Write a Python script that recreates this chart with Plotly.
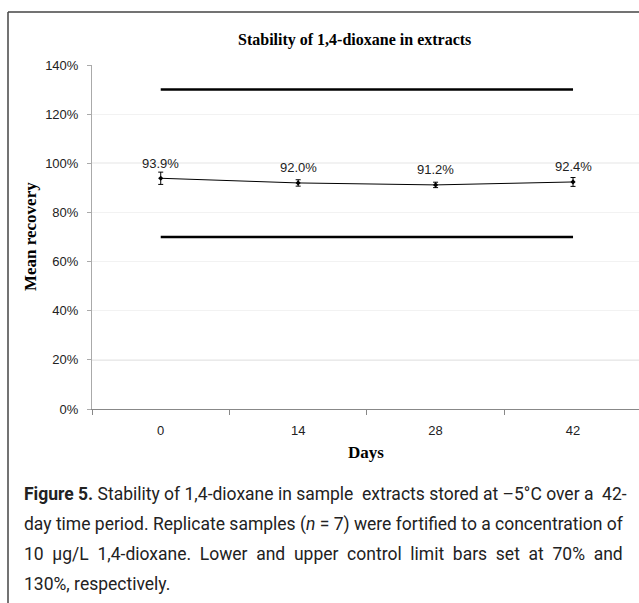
import plotly.graph_objects as go

# ---- data ----
days = ["0", "14", "28", "42"]
recovery = [93.9, 92.0, 91.2, 92.4]
err = [2.5, 1.3, 1.1, 1.8]
labels = ["93.9%", "92.0%", "91.2%", "92.4%"]
lower_limit = [70, 70]
upper_limit = [130, 130]
limit_x = ["0", "42"]
yticks = [0, 20, 40, 60, 80, 100, 120, 140]
ytick_text = ["0%", "20%", "40%", "60%", "80%", "100%", "120%", "140%"]
caption_lines = [
    "<b>Figure\u00a05.</b> Stability of 1,4-dioxane in sample extracts stored at \u20135\u00b0C over a 42-",
    "day time period. Replicate samples (<i>n</i>\u00a0=\u00a07) were fortified to a concentration of",
    "10 \u00b5g/L 1,4-dioxane. Lower and upper control limit bars set at 70% and",
    "130%, respectively.",
]
caption_extra_spaces = [2, 0, 12, 0]

W, H = 639, 603
L, R, T, B = 92, 0, 65, 194
pw, ph = W - L - R, H - T - B

def px(xp):
    return (xp - L) / pw

def py(yp):
    return (H - B - yp) / ph

def justify(line, extra):
    words = line.split(" ")
    gaps = len(words) - 1
    if extra <= 0 or gaps <= 0:
        return line
    out = words[0]
    for g in range(gaps):
        n = (extra * (g + 1)) // gaps - (extra * g) // gaps
        out += " " + "\u00a0" * n + words[g + 1]
    return out

fig = go.Figure()

fig.add_trace(go.Scatter(
    x=days, y=recovery, mode="lines+markers",
    line=dict(color="black", width=1),
    marker=dict(symbol="diamond", size=4, color="black"),
    error_y=dict(type="data", array=err, color="black", thickness=1, width=2.5),
))
fig.add_trace(go.Scatter(x=limit_x, y=upper_limit, mode="lines",
                         line=dict(color="black", width=2.5), hoverinfo="skip"))
fig.add_trace(go.Scatter(x=limit_x, y=lower_limit, mode="lines",
                         line=dict(color="black", width=2.5), hoverinfo="skip"))

for i, (v, t) in enumerate(zip(recovery, labels)):
    fig.add_annotation(x=i, y=v, text=t, showarrow=False, yshift=15,
                       font=dict(family="Arial, Liberation Sans", size=13, color="#222"))

shapes = []
for gy in [20, 100]:
    shapes.append(dict(type="line", xref="paper", yref="y", x0=0, x1=1, y0=gy, y1=gy,
                       line=dict(color="#c4c4c4", width=1), layer="below"))
shapes.append(dict(type="line", xref="paper", yref="paper", x0=px(8), x1=px(8),
                   y0=py(12), y1=py(610), line=dict(color="#444", width=1.5)))
shapes.append(dict(type="line", xref="paper", yref="paper", x0=px(8), x1=px(645),
                   y0=py(12), y1=py(12), line=dict(color="#444", width=1.5)))

fig.update_layout(
    width=W, height=H,
    margin=dict(l=L, r=R, t=T, b=B, pad=0),
    paper_bgcolor="white", plot_bgcolor="white",
    showlegend=False,
    shapes=shapes,
)

fig.update_xaxes(
    type="category", categoryorder="array", categoryarray=days, range=[-0.5, 3.48],
    showline=True, linecolor="#888", linewidth=1,
    ticks="outside", tickson="boundaries", ticklen=5, tickcolor="#888",
    showgrid=False, zeroline=False,
    tickfont=dict(family="Arial, Liberation Sans", size=13, color="#222"),
    ticklabelstandoff=9,
)
fig.update_yaxes(
    range=[0, 140], tickvals=yticks, ticktext=ytick_text,
    showline=True, linecolor="#aaa", linewidth=1,
    ticks="outside", ticklen=4, tickcolor="#aaa",
    showgrid=True, gridcolor="#f2f2f2", zeroline=False,
    tickfont=dict(family="Arial, Liberation Sans", size=13, color="#222"),
    ticklabelstandoff=6,
)

fig.add_annotation(xref="paper", yref="paper", x=px(354), y=py(40), text="<b>Stability of 1,4-dioxane in extracts</b>",
                   showarrow=False, xanchor="center", yanchor="middle",
                   font=dict(family="Liberation Serif, Times New Roman", size=16, color="black"))
fig.add_annotation(xref="paper", yref="paper", x=px(30), y=py(237), text="<b>Mean recovery</b>",
                   showarrow=False, textangle=-90, xanchor="center", yanchor="middle",
                   font=dict(family="Liberation Serif, Times New Roman", size=17, color="black"))
fig.add_annotation(xref="paper", yref="paper", x=px(366), y=py(452), text="<b>Days</b>",
                   showarrow=False, xanchor="center", yanchor="middle",
                   font=dict(family="Liberation Serif, Times New Roman", size=17, color="black"))

for i, (line, extra) in enumerate(zip(caption_lines, caption_extra_spaces)):
    fig.add_annotation(xref="paper", yref="paper", x=px(22), y=py(494 + 30 * i), text=justify(line, extra),
                       showarrow=False, xanchor="left", yanchor="middle",
                       font=dict(family="Roboto", size=17.5, color="#222"))

fig.write_html("out.html")
